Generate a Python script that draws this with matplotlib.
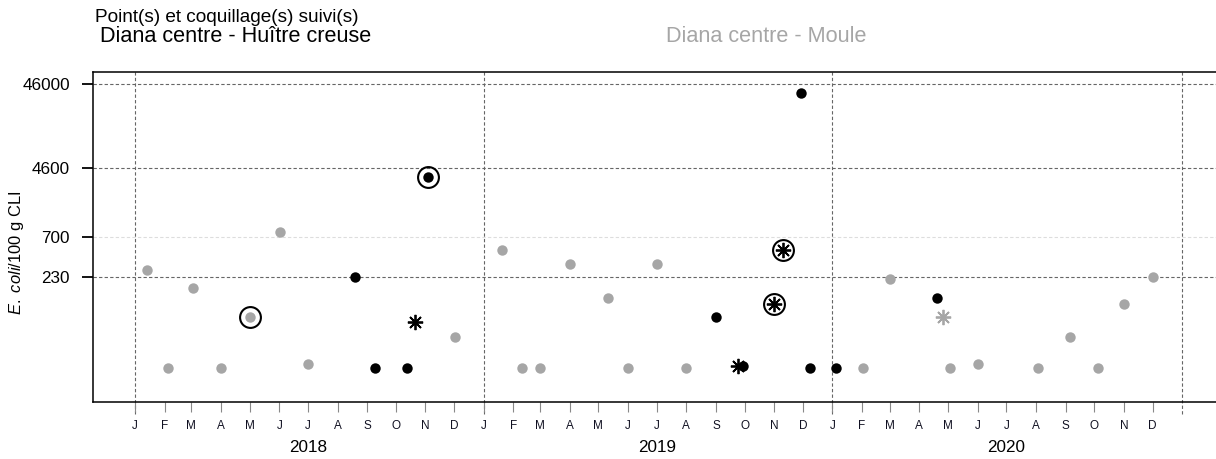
import numpy as np
import matplotlib.pyplot as plt
import matplotlib.dates as mdates
import matplotlib.transforms as mtransforms

plt.rcParams['font.family'] = ['Liberation Sans', 'DejaVu Sans']
plt.rcParams['mathtext.fontset'] = 'custom'
plt.rcParams['mathtext.it'] = 'Liberation Sans:italic'
plt.rcParams['mathtext.rm'] = 'Liberation Sans'

# oysters (Huitre creuse) - black
oyster_dates = ['2018-08-19', '2018-09-09', '2018-10-13', '2018-11-04', '2019-09-01',
                '2019-09-29', '2019-11-29', '2019-12-08', '2020-01-05', '2020-04-19']
oyster_vals = [230, 19, 19, 3600, 78, 20, 36000, 19, 19, 130]
oyster_star_dates = ['2018-10-21', '2019-09-24', '2019-11-01', '2019-11-10']
oyster_star_vals = [68, 20, 110, 490]

# mussels (Moule) - grey
mussel_dates = ['2018-01-14', '2018-02-04', '2018-03-03', '2018-04-01', '2018-05-01',
                '2018-06-02', '2018-07-01', '2018-12-02', '2019-01-20', '2019-02-10',
                '2019-03-01', '2019-04-01', '2019-05-11', '2019-06-01', '2019-07-01',
                '2019-08-01', '2020-02-02', '2020-03-01', '2020-05-03', '2020-06-01',
                '2020-08-03', '2020-09-06', '2020-10-05', '2020-11-01', '2020-12-01']
mussel_vals = [280, 19, 170, 19, 78, 790, 21, 45, 490, 19,
               19, 330, 130, 19, 330, 19, 19, 220, 19, 21,
               19, 45, 19, 110, 230]
mussel_star_dates = ['2020-04-26']
mussel_star_vals = [78]

# circled (alert) results
circled_dates = ['2018-05-01', '2018-11-04', '2019-11-01', '2019-11-10']
circled_vals = [78, 3600, 110, 490]

yticks = [230, 700, 4600, 46000]
month_letters = ['J', 'F', 'M', 'A', 'M', 'J', 'J', 'A', 'S', 'O', 'N', 'D']
years = [2018, 2019, 2020]

d = lambda lst: mdates.datestr2num(lst)
grey = '#a6a6a6'
star = (8, 2, 0)

W, H = 1216, 459
fig = plt.figure(figsize=(W / 100, H / 100), dpi=100)
ax = fig.add_axes([93 / W, (H - 402) / H, 1.002 - 93 / W, 330 / H])

ax.set_yscale('log')
ax.set_ylim(7.5, 64000)
ax.set_xlim(d('2017-11-18'), d('2021-02-08'))

# grid
for v in yticks:
    c = '#dddddd' if v == 700 else '#666666'
    ax.axhline(v, color=c, ls=(0, (3, 2)), lw=0.8, zorder=0)
trans = mtransforms.blended_transform_factory(ax.transData, ax.transAxes)
for y in years + [2021]:
    ax.plot([d(f'{y}-01-01')] * 2, [-0.035, 1], transform=trans, color='#666666',
            ls=(0, (3, 2)), lw=0.8, zorder=0, clip_on=False)

# points
ax.plot(d(mussel_dates), mussel_vals, 'o', color=grey, ms=7.5, mec='none', zorder=3)
ax.plot(d(oyster_dates), oyster_vals, 'o', color='black', ms=7.5, mec='none', zorder=3)
ax.plot(d(mussel_star_dates), mussel_star_vals, marker=star, ls='none', color=grey,
        ms=11, mew=1.3, zorder=3)
ax.plot(d(oyster_star_dates), oyster_star_vals, marker=star, ls='none', color='black',
        ms=11, mew=1.3, zorder=3)
ax.plot(d(circled_dates), circled_vals, 'o', mfc='none', mec='black', ms=15, mew=1.5, zorder=4)

# axes styling
for s in ['top', 'bottom', 'left', 'right']:
    ax.spines[s].set_linewidth(1.1)
ax.set_yticks(yticks)
ax.set_yticklabels([str(v) for v in yticks], fontsize=12.3)
ax.yaxis.set_minor_locator(plt.NullLocator())
ax.tick_params(axis='y', length=8, width=1.3, pad=8.5)

months = [f'{y}-{m:02d}-01' for y in years for m in range(1, 13)]
ax.set_xticks(d(months))
ax.set_xticklabels(month_letters * len(years), fontsize=8.5, color='#111122')
ax.tick_params(axis='x', length=7, width=0.8, color='#888888', pad=6)
ax.xaxis.set_minor_locator(plt.NullLocator())

for y in years:
    ax.text(d(f'{y}-07-01'), -0.139, str(y), transform=trans, ha='center', va='center',
            fontsize=12.3)

fig.text(17 / W, 1 - 253 / H, r'$\mathit{E.\ coli}$/100 g CLI', rotation=90,
         ha='center', va='center', fontsize=11.9)

fig.text(95 / W, 1 - 17 / H, 'Point(s) et coquillage(s) suivi(s)', ha='left', va='center',
         fontsize=13.7)
fig.text(100 / W, 1 - 37 / H, 'Diana centre - Huître creuse', ha='left', va='center',
         fontsize=15.6)
fig.text(766 / W, 1 - 37 / H, 'Diana centre - Moule', ha='center', va='center',
         fontsize=15.6, color='#a6a6a6')

fig.savefig('out.png', dpi=100)
